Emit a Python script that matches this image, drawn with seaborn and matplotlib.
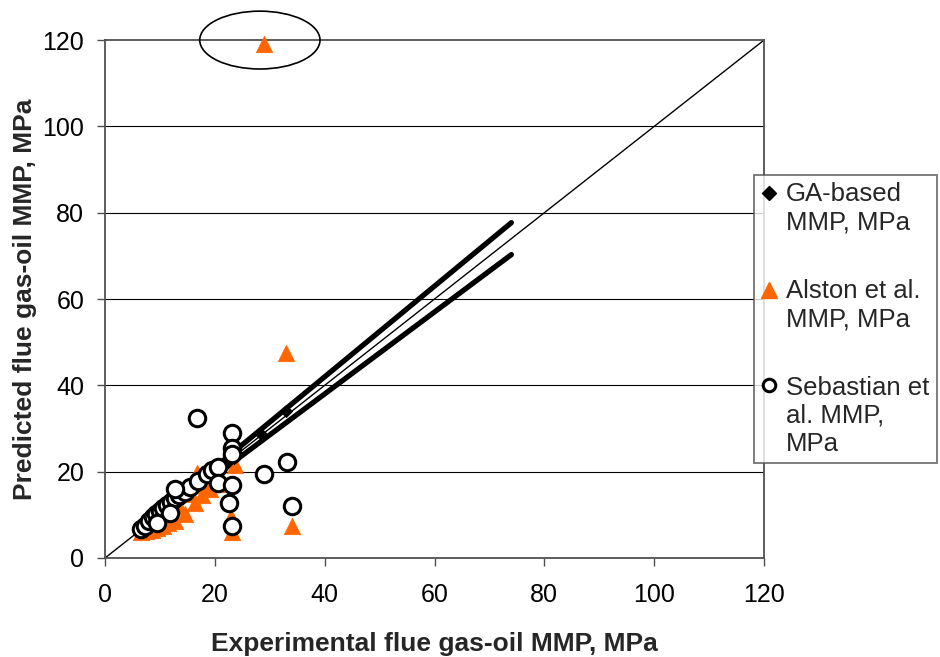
import matplotlib
matplotlib.use("Agg")
import numpy as np
import matplotlib.pyplot as plt
from matplotlib.patches import Ellipse
from matplotlib.lines import Line2D
from matplotlib.legend_handler import HandlerLine2D
import seaborn as sns
import pandas as pd

sns.set_theme(style="white")
plt.rcParams['font.family'] = ['Liberation Sans', 'DejaVu Sans']

# ---- data ----
exp_ga = [6.5, 7.2, 8.0, 8.8, 9.5, 10.2, 11.0, 11.8, 12.5, 13.3, 14.2, 15.0, 16.0,
          17.2, 18.5, 19.8, 21.0, 22.0, 23.0, 23.5, 28.3, 33.0]
pred_ga = [6.6, 7.3, 8.2, 8.7, 9.8, 10.0, 11.3, 12.1, 12.4, 13.6, 14.0, 15.4, 16.3,
           17.0, 18.9, 20.1, 21.6, 21.8, 23.4, 23.2, 29.0, 34.0]

exp_al = [6.5, 7.5, 8.5, 9.5, 10.5, 11.5, 12.8, 14.6, 16.4, 17.6, 19.1, 20.5, 16.7,
          22.9, 23.2, 23.7, 29.0, 33.0, 34.1, 9.0, 11.0, 13.5, 15.5, 18.0]
pred_al = [6.0, 6.3, 6.6, 7.0, 7.5, 8.0, 8.5, 10.3, 12.7, 14.6, 16.1, 17.2, 19.6,
           9.6, 6.0, 21.5, 119.0, 47.5, 7.3, 8.2, 9.5, 12.0, 14.8, 17.0]

exp_se = [6.5, 7.3, 8.0, 8.8, 9.3, 10.0, 10.5, 11.2, 12.0, 12.8, 13.5, 14.5, 15.5,
          17.0, 18.5, 19.5, 20.5, 12.8, 16.7, 23.2, 23.2, 23.2, 33.1, 29.0, 20.5,
          23.2, 22.6, 34.0, 23.2, 11.8, 9.5]
pred_se = [6.7, 7.5, 8.6, 9.5, 10.3, 10.8, 11.5, 12.3, 13.0, 13.8, 14.5, 15.3, 16.5,
           17.8, 19.5, 20.4, 21.0, 16.0, 32.5, 28.9, 25.5, 24.0, 22.2, 19.4, 17.4,
           16.9, 12.7, 12.0, 7.5, 10.5, 8.0]

identity_x = [0, 120]
identity_y = [0, 120]
band_x = [6.5, 74.0]
band_upper = [6.8, 77.7]
band_lower = [6.2, 70.3]

labels = ["GA-based\nMMP, MPa", "Alston et al.\nMMP, MPa", "Sebastian et\nal. MMP,\nMPa"]
xticks = [0, 20, 40, 60, 80, 100, 120]
yticks = [0, 20, 40, 60, 80, 100, 120]
orange = "#FF6600"
frame_grey = "#505050"


class TopAlignedHandler(HandlerLine2D):
    """Places the legend marker level with the first line of a multi-line label."""
    def __init__(self, nlines, linespacing=1.2, **kw):
        super().__init__(**kw)
        self.nlines = nlines
        self.linespacing = linespacing

    def create_artists(self, legend, orig_handle, xdescent, ydescent, width, height,
                       fontsize, trans):
        artists = super().create_artists(legend, orig_handle, xdescent, ydescent,
                                         width, height, fontsize, trans)
        off = (self.nlines - 1) / 2.0 * fontsize * self.linespacing
        for a in artists:
            a.set_ydata(np.asarray(a.get_ydata(), dtype=float) + off)
        return artists


fig = plt.figure(figsize=(9.40, 6.57), dpi=100)
ax = fig.add_axes([0.1117, 0.1507, 0.7011, 0.7883])

ax.set_xlim(0, 120)
ax.set_ylim(0, 120)
for yv in yticks[1:-1]:
    ax.axhline(yv, color="black", lw=0.8, zorder=0)

# identity line and bands
sns.lineplot(x=identity_x, y=identity_y, ax=ax, color="black", lw=1.0, zorder=2)
sns.lineplot(x=band_x, y=band_upper, ax=ax, color="black", lw=3.8, zorder=2,
             solid_capstyle="round")
sns.lineplot(x=band_x, y=band_lower, ax=ax, color="black", lw=3.8, zorder=2,
             solid_capstyle="round")

df_ga = pd.DataFrame({"x": exp_ga, "y": pred_ga})
df_al = pd.DataFrame({"x": exp_al, "y": pred_al})
df_se = pd.DataFrame({"x": exp_se, "y": pred_se})

sns.scatterplot(data=df_ga, x="x", y="y", ax=ax, marker="D", s=40, color="black",
                edgecolor="black", linewidth=0.5, zorder=4)
sns.scatterplot(data=df_al, x="x", y="y", ax=ax, marker="^", s=140, color=orange,
                edgecolor=orange, linewidth=0.5, zorder=3, clip_on=False)
sns.scatterplot(data=df_se, x="x", y="y", ax=ax, marker="o", s=140, facecolor="white",
                edgecolor="black", linewidth=2.2, zorder=5)

# highlight ellipse around outlier
ell = Ellipse((28.2, 120), width=21.9, height=13.4, fill=False, edgecolor="black",
              lw=1.2, clip_on=False, zorder=6)
ax.add_patch(ell)

ax.set_xticks(xticks)
ax.set_yticks(yticks)
ax.tick_params(axis="both", direction="out", length=6, width=1, color=frame_grey,
               labelcolor="black", labelsize=18, bottom=True, left=True)
ax.tick_params(axis="x", pad=12)
ax.tick_params(axis="y", pad=9)
for side in ["left", "bottom", "top", "right"]:
    ax.spines[side].set_color(frame_grey)
    ax.spines[side].set_linewidth(1.3)

ax.set_xlabel("Experimental flue gas-oil MMP, MPa", fontsize=19, fontweight="bold",
              labelpad=18)
ax.set_ylabel("Predicted flue gas-oil MMP, MPa", fontsize=19, fontweight="bold",
              labelpad=4)

handles = [
    Line2D([], [], marker="D", color="black", ls="none", markersize=7),
    Line2D([], [], marker="^", color=orange, ls="none", markersize=11),
    Line2D([], [], marker="o", markerfacecolor="white", markeredgecolor="black",
           markeredgewidth=2.2, ls="none", markersize=9),
]
handler_map = {h: TopAlignedHandler(lab.count("\n") + 1) for h, lab in zip(handles, labels)}
leg = fig.legend(handles, labels, loc="upper left", bbox_to_anchor=(0.802, 0.734),
                 fontsize=18.5, frameon=True, fancybox=False, edgecolor=frame_grey,
                 handlelength=0.6, handletextpad=0.35, labelspacing=1.75,
                 borderpad=0.3, borderaxespad=0, handler_map=handler_map)
leg.get_frame().set_linewidth(1.3)

fig.savefig("out.png", dpi=100, facecolor="white")
